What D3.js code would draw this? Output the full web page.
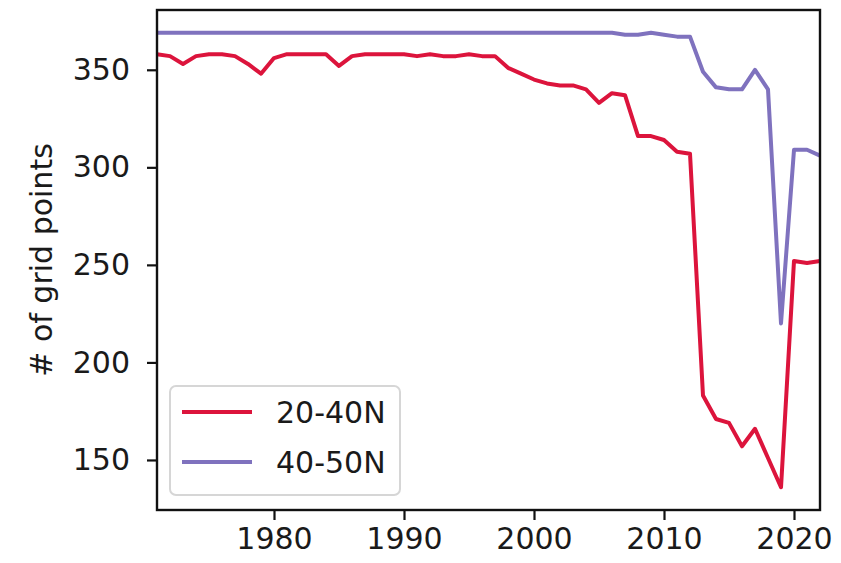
<!DOCTYPE html>
<html>
<head>
<meta charset="utf-8">
<script src="https://cdn.jsdelivr.net/npm/d3@7/dist/d3.min.js"></script>
<style>
  html, body { margin: 0; padding: 0; background: #ffffff; }
  svg { display: block; }
  text { font-family: "DejaVu Sans", sans-serif; fill: #1a1a1a; }
</style>
</head>
<body>
<div id="chart"></div>
<script>
// Yearly counts of grid points per latitude band
const years = [
  1971, 1972, 1973, 1974, 1975, 1976, 1977, 1978, 1979, 1980,
  1981, 1982, 1983, 1984, 1985, 1986, 1987, 1988, 1989, 1990,
  1991, 1992, 1993, 1994, 1995, 1996, 1997, 1998, 1999, 2000,
  2001, 2002, 2003, 2004, 2005, 2006, 2007, 2008, 2009, 2010,
  2011, 2012, 2013, 2014, 2015, 2016, 2017, 2018, 2019, 2020,
  2021, 2022
];

const band20to40 = [
  358, 357, 353, 357, 358, 358, 357, 353, 348, 356,
  358, 358, 358, 358, 352, 357, 358, 358, 358, 358,
  357, 358, 357, 357, 358, 357, 357, 351, 348, 345,
  343, 342, 342, 340, 333, 338, 337, 316, 316, 314,
  308, 307, 183, 171, 169, 157, 166, 151, 136, 252,
  251, 252
];

const band40to50 = [
  369, 369, 369, 369, 369, 369, 369, 369, 369, 369,
  369, 369, 369, 369, 369, 369, 369, 369, 369, 369,
  369, 369, 369, 369, 369, 369, 369, 369, 369, 369,
  369, 369, 369, 369, 369, 369, 368, 368, 369, 368,
  367, 367, 349, 341, 340, 340, 350, 340, 220, 309,
  309, 306
];

const seriesNames = ["20-40N", "40-50N"];
const yTicks = [150, 200, 250, 300, 350];
const xTicks = [1980, 1990, 2000, 2010, 2020];
const yLabel = "# of grid points";

const W = 841, H = 563;
const plot = { left: 157, right: 820, top: 10, bottom: 510 };

const svg = d3.select("#chart").append("svg")
  .attr("width", W).attr("height", H);

const series = [
  { name: seriesNames[0], values: band20to40, color: "#dc143c" },
  { name: seriesNames[1], values: band40to50, color: "#7f72be" }
];

// y domain: data extent padded by 5% on each side
const allVals = band20to40.concat(band40to50);
const [vmin, vmax] = d3.extent(allVals);
const pad = (vmax - vmin) * 0.05;

const x = d3.scaleLinear()
  .domain(d3.extent(years))
  .range([plot.left, plot.right]);

const y = d3.scaleLinear()
  .domain([vmin - pad, vmax + pad])
  .range([plot.bottom, plot.top]);

const line = d3.line()
  .x((d, i) => x(years[i]))
  .y(d => y(d));

// lines
const g = svg.append("g");
series.forEach(s => {
  g.append("path")
    .datum(s.values)
    .attr("fill", "none")
    .attr("stroke", s.color)
    .attr("stroke-width", 4)
    .attr("stroke-linejoin", "round")
    .attr("stroke-linecap", "butt")
    .attr("d", line);
});

// axes
const xAxis = d3.axisBottom(x)
  .tickValues(xTicks)
  .tickFormat(d3.format("d"))
  .tickSize(10)
  .tickPadding(8);

const yAxis = d3.axisLeft(y)
  .tickValues(yTicks)
  .tickFormat(d3.format("d"))
  .tickSize(10)
  .tickPadding(17);

const gx = svg.append("g")
  .attr("transform", `translate(0,${plot.bottom})`)
  .call(xAxis);
const gy = svg.append("g")
  .attr("transform", `translate(${plot.left},0)`)
  .call(yAxis);

[gx, gy].forEach(a => {
  a.select(".domain").remove();
  a.selectAll(".tick line").attr("stroke", "#111").attr("stroke-width", 2.2);
  a.selectAll(".tick text")
    .style("font-family", "'DejaVu Sans', sans-serif")
    .style("font-size", "30px")
    .attr("fill", "#1a1a1a");
});

// frame
svg.append("rect")
  .attr("x", plot.left).attr("y", plot.top)
  .attr("width", plot.right - plot.left)
  .attr("height", plot.bottom - plot.top)
  .attr("fill", "none")
  .attr("stroke", "#111")
  .attr("stroke-width", 2.4);

// y axis title
svg.append("text")
  .attr("transform", `translate(52,${(plot.top + plot.bottom) / 2}) rotate(-90)`)
  .attr("text-anchor", "middle")
  .style("font-size", "30px")
  .text(yLabel);

// legend
const lg = svg.append("g");
lg.append("rect")
  .attr("x", 170).attr("y", 386)
  .attr("width", 230).attr("height", 109)
  .attr("rx", 6).attr("ry", 6)
  .attr("fill", "#ffffff").attr("fill-opacity", 0.8)
  .attr("stroke", "#d6d6d6").attr("stroke-width", 2);

series.forEach((s, i) => {
  const ly = 412 + i * 50;
  lg.append("line")
    .attr("x1", 182).attr("x2", 252)
    .attr("y1", ly).attr("y2", ly)
    .attr("stroke", s.color).attr("stroke-width", 4);
  lg.append("text")
    .attr("x", 276).attr("y", ly + 11)
    .style("font-size", "30px")
    .text(s.name);
});
</script>
</body>
</html>
